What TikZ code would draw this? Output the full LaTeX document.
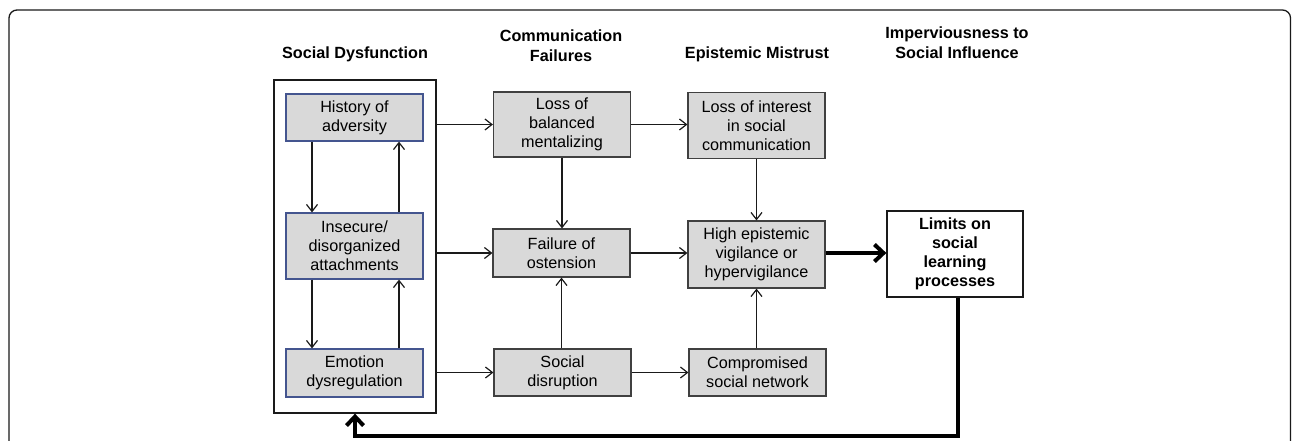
\documentclass[tikz,border=0pt]{standalone}
\usepackage{fontspec}
\setmainfont{Liberation Sans}
\usetikzlibrary{arrows.meta}
\definecolor{boxfill}{HTML}{D9D9D9}
\definecolor{boxline}{HTML}{404040}
\definecolor{blueline}{HTML}{44558F}
\definecolor{ink}{HTML}{1A1A1A}
\begin{document}
\begin{tikzpicture}[x=1pt,y=-1pt,
  font=\fontsize{16.2}{19.2}\selectfont,
  gbox/.style={draw=boxline, fill=boxfill, line width=1.2pt, minimum width=137pt, align=center, inner sep=0pt},
  bbox/.style={gbox, draw=blueline},
  wbox/.style={draw=ink, fill=white, line width=1.3pt, align=center, inner sep=0pt},
  hdr/.style={font=\fontsize{16.2}{19.2}\selectfont\bfseries, align=center, inner sep=0pt, anchor=north},
  arr/.style={draw=ink, line width=1.2pt, -{Straight Barb[length=7pt,width=11pt]}},
  bigarr/.style={draw=black, line width=4pt, -{Straight Barb[length=9pt,width=17pt]}}
]
\fill[white] (0,0) rectangle (1292,440);
\useasboundingbox (0,0) rectangle (1292,440);
\draw[draw=ink, line width=1.3pt, rounded corners=8pt] (9,460) -- (9,10) -- (1290.5,10) -- (1290.5,460);

% headers
\node[hdr] (h1) at (355,47) {Social Dysfunction};
\node[hdr] (h2) at (561,30) {Communication\\Failures};
\node[hdr] (h3) at (757,47) {Epistemic Mistrust};
\node[hdr] (h4) at (957,27) {Imperviousness to\\Social Influence};

% social dysfunction frame
\node[wbox, minimum width=162pt, minimum height=333pt] (sd) at (355,246.5) {};
\node[bbox, minimum height=47pt] (hist) at (354.5,117.5) {History of\\adversity};
\node[bbox, minimum height=66pt] (ins) at (354.5,246) {Insecure/\\disorganized\\attachments};
\node[bbox, minimum height=48pt] (emo) at (354.5,373) {Emotion\\dysregulation};

% communication failures
\node[gbox, minimum height=65pt] (lb) at (562,124.5) {Loss of\\balanced\\mentalizing};
\node[gbox, minimum height=48pt] (fo) at (561.5,253) {Failure of\\ostension};
\node[gbox, minimum height=47pt] (sdis) at (562.5,372.5) {Social\\disruption};

% epistemic mistrust
\node[gbox, minimum height=66pt] (li) at (756.5,125.5) {Loss of interest\\in social\\communication};
\node[gbox, minimum height=67pt] (hev) at (756.5,254.5) {High epistemic\\vigilance or\\hypervigilance};
\node[gbox, minimum height=47pt] (cs) at (757.5,372.5) {Compromised\\social network};

% limits
\node[wbox, minimum width=136pt, minimum height=86pt, font=\fontsize{16.2}{19.2}\selectfont\bfseries] (lim) at (955,254) {Limits on\\social\\learning\\processes};

% arrows inside social dysfunction
\draw[arr] (hist.south -| 312,0) -- (ins.north -| 312,0);
\draw[arr] (ins.north -| 399,0) -- (hist.south -| 399,0);
\draw[arr] (ins.south -| 312,0) -- (emo.north -| 312,0);
\draw[arr] (emo.north -| 399,0) -- (ins.south -| 399,0);

% from social dysfunction
\draw[arr] (sd.east |- lb.west) -- (lb.west);
\draw[arr] (sd.east |- fo.west) -- (fo.west);
\draw[arr] (sd.east |- sdis.west) -- (sdis.west);

% middle to right
\draw[arr] (lb.east) -- (li.west |- lb.east);
\draw[arr] (fo.east) -- (hev.west |- fo.east);
\draw[arr] (sdis.east) -- (cs.west |- sdis.east);

% verticals
\draw[arr] (lb.south) -- (fo.north -| lb.south);
\draw[arr] (sdis.north -| fo.south) -- (fo.south);
\draw[arr] (li.south) -- (hev.north -| li.south);
\draw[arr] (cs.north -| hev.south) -- (hev.south);

% thick
\draw[bigarr] (hev.east |- fo.east) -- (lim.west |- fo.east);
\draw[bigarr] ([xshift=3pt]lim.south) |- (sd.south |- 0,436) -- (sd.south);
\end{tikzpicture}
\end{document}
